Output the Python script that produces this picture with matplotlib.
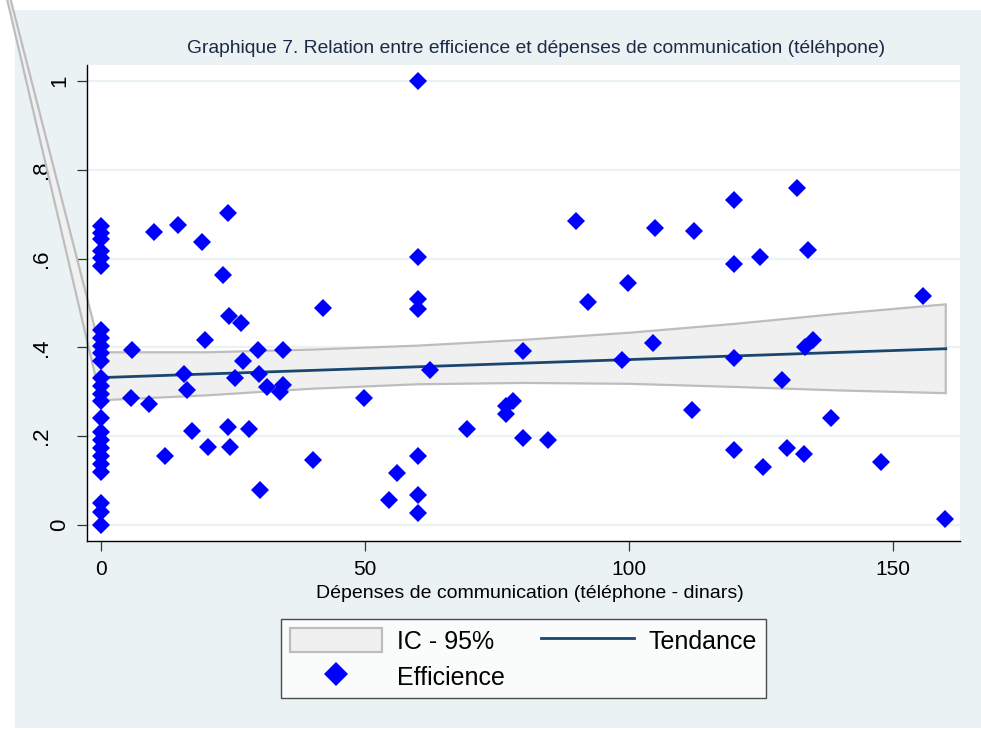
import matplotlib.pyplot as plt
from matplotlib.patches import Patch, Polygon, Rectangle
from matplotlib.lines import Line2D

plt.rcParams["font.family"] = ["Liberation Sans", "DejaVu Sans"]

# points (dépenses, efficience)
depenses = [0] * 25 + [
    5.9, 5.6, 9.1, 10.1, 12.1, 14.5, 15.8, 16.2, 17.3, 19.1, 19.7, 20.2,
    23.2, 24.1, 24.1, 24.3, 24.4, 25.4, 26.6, 26.9, 28.0, 29.8, 30.0, 30.1,
    31.5, 33.9, 34.5, 34.4, 40.1, 42.0, 49.9, 54.5, 56.0,
    60, 60, 60, 60, 60, 60, 60, 62.3, 69.4, 76.7, 76.8, 78.1, 80, 80, 84.6,
    89.9, 92.2, 98.6, 99.9, 104.6, 104.9, 111.9, 112.4,
    119.8, 119.8, 119.8, 119.8, 124.8, 125.3, 129, 130, 131.8, 133.2, 133.3,
    134, 134.9, 138.2, 147.7, 155.7, 159.8,
]
efficience = [
    0.674, 0.658, 0.645, 0.618, 0.602, 0.584, 0.440, 0.422, 0.404, 0.387,
    0.369, 0.330, 0.312, 0.294, 0.279, 0.240, 0.209, 0.191, 0.173, 0.155,
    0.137, 0.119, 0.049, 0.029, 0.0,
    0.395, 0.285, 0.273, 0.661, 0.155, 0.676, 0.341, 0.303, 0.212, 0.637,
    0.417, 0.175, 0.562, 0.702, 0.221, 0.470, 0.176, 0.330, 0.455, 0.369,
    0.217, 0.395, 0.339, 0.079, 0.311, 0.300, 0.315, 0.395, 0.146, 0.489,
    0.287, 0.056, 0.118,
    1.0, 0.604, 0.509, 0.487, 0.155, 0.067, 0.028, 0.348, 0.216, 0.249,
    0.267, 0.279, 0.392, 0.196, 0.192, 0.685, 0.502, 0.372, 0.545, 0.410,
    0.670, 0.258, 0.663, 0.732, 0.588, 0.377, 0.169, 0.604, 0.130, 0.326,
    0.174, 0.760, 0.159, 0.402, 0.619, 0.416, 0.240, 0.142, 0.515, 0.013,
]

# droite de tendance et intervalle de confiance
tend_x = [0, 160]
tend_y = [0.332, 0.397]
ic_x = [0, 20, 40, 60, 80, 100, 120, 140, 160]
ic_haut = [0.389, 0.389, 0.395, 0.404, 0.417, 0.433, 0.453, 0.476, 0.497]
ic_bas = [0.281, 0.292, 0.307, 0.317, 0.320, 0.318, 0.311, 0.303, 0.297]
# sommet parasite du polygone (défaut de rendu visible en haut à gauche)
ic_parasite = (-24.8, 1.54)

x_ticks = [0, 50, 100, 150]
y_ticks = [0, 0.2, 0.4, 0.6, 0.8, 1]
y_labels = ["0", ".2", ".4", ".6", ".8", "1"]

fond = "#EAF2F3"
fig = plt.figure(figsize=(9.81, 7.31), dpi=100, facecolor="white")
fig.patches.append(Rectangle((0.0153, 0.0041), 0.9847, 0.9822,
                             transform=fig.transFigure, facecolor=fond,
                             edgecolor="none", zorder=-10))

ax = fig.add_axes([0.0887, 0.2599, 0.8899, 0.6512])
ax.set_facecolor("white")

# bande IC
pts = [(x, y) for x, y in zip(ic_x, ic_haut)]
pts += [(x, y) for x, y in zip(ic_x[::-1], ic_bas[::-1])]
pts += [ic_parasite]
band = Polygon(pts, closed=True, facecolor="#F0F0F0", edgecolor="#BDBDBD",
               linewidth=1.6, zorder=2, clip_on=False)
ax.add_patch(band)

ax.plot(tend_x, tend_y, color="#1A476F", linewidth=2, zorder=3)
ax.plot(depenses, efficience, linestyle="none", marker="D", markersize=9.2,
        color="#0000FF", markeredgewidth=0, zorder=4)

ax.set_xlim(-2.65, 162.7)
ax.set_ylim(-0.036, 1.036)
ax.set_xticks(x_ticks)
ax.set_yticks(y_ticks)
ax.set_yticklabels(y_labels, rotation=90, va="center")
ax.tick_params(axis="both", length=7, width=0.9, color="#333333")
ax.tick_params(axis="x", labelsize=15, pad=7)
ax.tick_params(axis="y", labelsize=16)
# Stata décale les étiquettes avec un point
for tick, lab in zip(ax.yaxis.get_major_ticks(), y_labels):
    tick.set_pad(18 if "." in lab else 5)

ax.grid(axis="y", color=fond, linewidth=1.6, zorder=0)
ax.set_axisbelow(True)
for s in ["top", "right"]:
    ax.spines[s].set_visible(False)
for s in ["left", "bottom"]:
    ax.spines[s].set_linewidth(1.0)

ax.set_xlabel("Dépenses de communication (téléphone - dinars)", fontsize=14)
ax.xaxis.set_label_coords(0.5075, -0.092)

fig.text(0.5464, 0.934,
         "Graphique 7. Relation entre efficience et dépenses de communication (téléhpone)",
         ha="center", va="center", fontsize=13.9, color="#1C2A48")

handles = [
    Patch(facecolor="#F0F0F0", edgecolor="#BDBDBD", linewidth=1.6),
    Line2D([], [], linestyle="none", marker="D", markersize=12,
           color="#0000FF", markeredgewidth=0),
    Line2D([], [], color="#1A476F", linewidth=2),
]
labels = ["IC - 95%", "Efficience", "Tendance"]
leg = fig.legend(handles, labels, loc="center", bbox_to_anchor=(0.5336, 0.0985),
                 bbox_transform=fig.transFigure, ncol=2, fontsize=18,
                 frameon=True, fancybox=False, edgecolor="#222222",
                 handlelength=3.7, handleheight=1.1, handletextpad=0.6,
                 columnspacing=1.45, labelspacing=0.42, borderpad=0.35)
leg.get_frame().set_linewidth(1.0)
leg.get_frame().set_facecolor("white")

plt.savefig("out.png", dpi=100, facecolor=fig.get_facecolor())
